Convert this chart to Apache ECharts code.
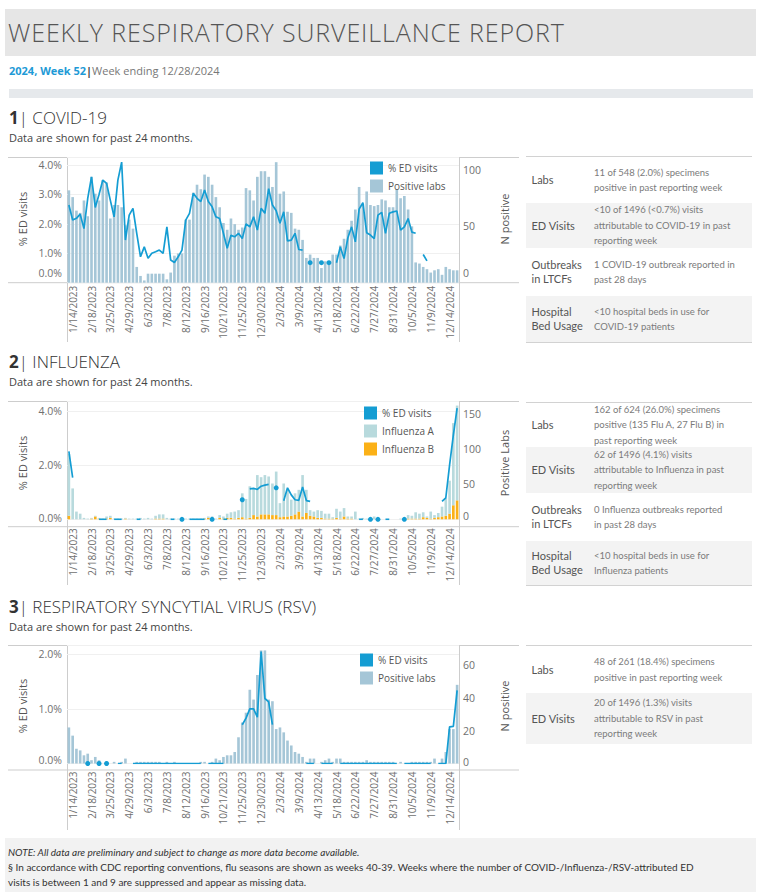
<!DOCTYPE html>
<html><head><meta charset="utf-8">
<script src="https://cdn.jsdelivr.net/npm/echarts@6.0.0/dist/echarts.min.js"></script>
<style>
html,body{margin:0;padding:0;background:#fff;}
#page{position:relative;width:763px;height:892px;overflow:hidden;font-family:"Open Sans",sans-serif;}
.abs{position:absolute;white-space:nowrap;}
.title{font-size:25px;font-weight:300;color:#555;letter-spacing:0.9px;}
.sub{font-size:11px;line-height:16px;color:#777;}
.h2{font-size:17px;line-height:22px;color:#333;font-weight:300;}
.h2 b{font-weight:700;}
.note{font-size:11px;line-height:16px;color:#444;}
.chart{position:absolute;left:0;width:520px;height:200px;}
.axt{position:absolute;font-size:11px;color:#555;white-space:nowrap;transform:translate(-50%,-50%) rotate(-90deg);}
.tbl{position:absolute;left:526px;width:226px;border-top:1px solid #d2d2d2;}
.tbl.bb{border-bottom:1px solid #d2d2d2;}
.row{display:flex;align-items:center;box-sizing:border-box;}
.row.g{background:#f3f3f3;}
.lab{width:62.5px;padding-left:5.5px;font-family:Lato,sans-serif;font-size:11px;line-height:14px;color:#555;flex:none;}
.desc{font-family:Lato,sans-serif;font-size:9.5px;line-height:15.5px;color:#7b7b7b;white-space:nowrap;}
.foot{position:absolute;left:5px;top:838px;width:751px;height:54px;background:#f2f2f2;box-sizing:border-box;padding:7px 0 0 3px;font-family:Lato,sans-serif;font-size:10px;line-height:15px;color:#333;white-space:nowrap;}
</style></head>
<body><div id="page">
<div class="abs" style="left:5px;top:9px;width:751px;height:47px;background:#e6e6e6"></div>
<div class="abs title" style="left:8px;top:9px;height:47px;line-height:47px;">WEEKLY RESPIRATORY SURVEILLANCE REPORT</div>
<div class="abs sub" style="left:9px;top:63px"><span style="color:#1e9ad6;font-weight:700">2024, Week 52</span><span style="color:#444;font-weight:700">|</span>Week ending 12/28/2024</div>
<div class="abs" style="left:9px;top:89px;width:744px;height:9px;background:#e6e9ec"></div>

<div class="abs h2" style="left:9px;top:107px"><b>1</b>| COVID-19</div>
<div class="abs note" style="left:9px;top:130px">Data are shown for past 24 months.</div>
<div class="abs h2" style="left:9px;top:351px"><b>2</b>| INFLUENZA</div>
<div class="abs note" style="left:9px;top:374px">Data are shown for past 24 months.</div>
<div class="abs h2" style="left:9px;top:596px"><b>3</b>| RESPIRATORY SYNCYTIAL VIRUS (RSV)</div>
<div class="abs note" style="left:9px;top:619px">Data are shown for past 24 months.</div>

<div id="c1" class="chart" style="top:150px"></div>
<div id="c2" class="chart" style="top:394px"></div>
<div id="c3" class="chart" style="top:638px"></div>

<div class="axt" style="left:22px;top:219px">% ED visits</div>
<div class="axt" style="left:504px;top:219px">N positive</div>
<div class="axt" style="left:22px;top:463px">% ED visits</div>
<div class="axt" style="left:504px;top:463px">Positive Labs</div>
<div class="axt" style="left:22px;top:706px">% ED visits</div>
<div class="axt" style="left:504px;top:706px">N positive</div>

<div class="tbl bb" style="top:156px">
 <div class="row" style="height:46px"><div class="lab">Labs</div><div class="desc">11 of 548 (2.0%) specimens<br>positive in past reporting week</div></div>
 <div class="row g" style="height:45px"><div class="lab">ED Visits</div><div class="desc">&lt;10 of 1496 (&lt;0.7%) visits<br>attributable to COVID-19 in past<br>reporting week</div></div>
 <div class="row" style="height:48px"><div class="lab">Outbreaks<br>in LTCFs</div><div class="desc">1 COVID-19 outbreak reported in<br>past 28 days</div></div>
 <div class="row g" style="height:46px"><div class="lab">Hospital<br>Bed Usage</div><div class="desc">&lt;10 hospital beds in use for<br>COVID-19 patients</div></div>
</div>
<div class="tbl bb" style="top:402px">
 <div class="row" style="height:44px"><div class="lab">Labs</div><div class="desc">162 of 624 (26.0%) specimens<br>positive (135 Flu A, 27 Flu B) in<br>past reporting week</div></div>
 <div class="row g" style="height:46px"><div class="lab">ED Visits</div><div class="desc">62 of 1496 (4.1%) visits<br>attributable to Influenza in past<br>reporting week</div></div>
 <div class="row" style="height:48px"><div class="lab">Outbreaks<br>in LTCFs</div><div class="desc">0 Influenza outbreaks reported<br>in past 28 days</div></div>
 <div class="row g" style="height:44px"><div class="lab">Hospital<br>Bed Usage</div><div class="desc">&lt;10 hospital beds in use for<br>Influenza patients</div></div>
</div>
<div class="tbl" style="top:645px">
 <div class="row" style="height:47px"><div class="lab">Labs</div><div class="desc">48 of 261 (18.4%) specimens<br>positive in past reporting week</div></div>
 <div class="row g" style="height:51px"><div class="lab">ED Visits</div><div class="desc">20 of 1496 (1.3%) visits<br>attributable to RSV in past<br>reporting week</div></div>
</div>

<div class="foot"><i>NOTE: All data are preliminary and subject to change as more data become available.</i><br>§ In accordance with CDC reporting conventions, flu seasons are shown as weeks 40-39. Weeks where the number of COVID-/Influenza-/RSV-attributed ED<br>visits is between 1 and 9 are suppressed and appear as missing data.</div>
</div>
<script>
const weeks = ['1/7/2023','1/14/2023','1/21/2023','1/28/2023','2/4/2023','2/11/2023','2/18/2023','2/25/2023','3/4/2023','3/11/2023','3/18/2023','3/25/2023','4/1/2023','4/8/2023','4/15/2023','4/22/2023','4/29/2023','5/6/2023','5/13/2023','5/20/2023','5/27/2023','6/3/2023','6/10/2023','6/17/2023','6/24/2023','7/1/2023','7/8/2023','7/15/2023','7/22/2023','7/29/2023','8/5/2023','8/12/2023','8/19/2023','8/26/2023','9/2/2023','9/9/2023','9/16/2023','9/23/2023','9/30/2023','10/7/2023','10/14/2023','10/21/2023','10/28/2023','11/4/2023','11/11/2023','11/18/2023','11/25/2023','12/2/2023','12/9/2023','12/16/2023','12/23/2023','12/30/2023',
'1/6/2024','1/13/2024','1/20/2024','1/27/2024','2/3/2024','2/10/2024','2/17/2024','2/24/2024','3/2/2024','3/9/2024','3/16/2024','3/23/2024','3/30/2024','4/6/2024','4/13/2024','4/20/2024','4/27/2024','5/4/2024','5/11/2024','5/18/2024','5/25/2024','6/1/2024','6/8/2024','6/15/2024','6/22/2024','6/29/2024','7/6/2024','7/13/2024','7/20/2024','7/27/2024','8/3/2024','8/10/2024','8/17/2024','8/24/2024','8/31/2024','9/7/2024','9/14/2024','9/21/2024','9/28/2024','10/5/2024','10/12/2024','10/19/2024','10/26/2024','11/2/2024','11/9/2024','11/16/2024','11/23/2024','11/30/2024','12/7/2024','12/14/2024','12/21/2024','12/28/2024'];

const covidEdPct = [2.64,2.13,2.19,2.33,1.84,2.87,3.6,2.56,3.0,3.49,
 3.38,2.8,2.24,3.49,4.1,1.45,2.3,2.53,1.68,0.88,
 1.22,0.83,1.0,1.05,1.11,1.0,1.9,0.77,0.69,0.88,
 1.11,2.13,2.36,3.04,2.87,2.76,3.15,2.76,2.58,2.24,
 2.18,1.68,1.17,1.61,1.56,1.68,1.5,2.0,1.9,2.24,
 1.79,2.53,2.36,3.2,2.64,2.45,2.02,2.41,1.42,1.45,
 1.68,1.13,1.11,null,0.68,null,null,0.68,null,0.68,
 null,0.68,1.22,0.82,1.52,1.9,1.39,2.5,2.72,1.7,
 1.62,1.5,2.3,2.39,1.68,2.36,2.41,2.44,1.79,1.9,
 2.18,1.72,1.68,null,0.96,0.74,null,null,null,null,
 null,null,null,null];
const covidPositiveLabs = [82,76,64,62,73,59,94,79,73,91,
 89,57,69,69,67,51,56,48,14,6,
 2,8,8,8,8,8,3,9,24,26,
 26,56,56,80,87,83,96,94,87,76,
 67,53,47,57,52,47,49,84,82,73,
 94,99,99,94,85,107,79,81,63,62,
 48,47,38,22,25,22,22,13,19,19,
 25,25,33,39,47,55,65,85,70,81,
 69,68,69,74,73,67,67,83,75,77,
 65,50,18,17,14,12,9,11,12,7,
 14,12,11,11];

const fluEdPct = [2.5,1.54,null,null,null,null,null,null,0,0,
 0,null,0,0,0,null,null,null,0,0,
 null,null,null,null,null,null,null,0,0,null,
 0,null,0,0,0,0,0,null,0,null,
 null,0,0,null,null,null,0.72,null,1.12,1.14,
 1.1,1.22,1.26,1.29,null,1.16,null,0.68,1.16,0.9,
 0.72,0.7,1.19,0.69,0.66,null,null,null,null,null,
 null,null,null,null,null,null,null,0,0,null,
 0,null,0,null,0,0,null,null,null,0,
 null,null,null,null,null,null,null,null,null,0.66,
 0.79,2.0,3.1,4.1];
const fluA = [88,44,11,8,2,1,1,1,1,1,
 3,3,1,1,1,1,1,1,1,2,
 1,2,1,4,6,6,2,1,1,1,
 1,1,1,1,1,1,1,2,3,1,
 4,3,6,8,10,11,34,28,45,38,
 59,53,56,54,45,62,20,47,38,23,
 30,31,59,33,8,7,11,10,7,7,
 2,13,10,12,3,3,11,1,2,1,
 2,4,1,0,0,0,0,0,1,0,
 5,4,9,7,7,2,10,4,6,14,
 25,47,117,135];
const fluB = [5,0,0,0,0,0,1,4,1,0,
 1,2,0,0,0,1,0,0,0,0,
 0,0,0,1,1,1,0,0,0,0,
 0,0,0,0,0,0,1,2,1,0,
 2,1,2,2,1,2,3,1,2,6,
 4,7,7,7,6,6,3,4,4,5,
 7,11,4,9,5,4,2,2,1,1,
 1,2,1,4,1,1,0,0,0,0,
 0,0,0,0,0,0,0,0,0,0,
 1,1,1,1,3,2,1,2,3,4,
 5,8,20,27];

const rsvEdPct = [null,null,null,null,null,0,null,null,0,null,
 0,null,null,0,0,null,null,0,0,0,
 0,0,0,0,0,0,0,0,0,0,
 0,0,0,0,0,0,null,0,0,0,
 0,0,null,null,null,null,0.71,0.83,1.0,1.0,
 0.85,2.05,1.19,1.13,0.71,null,null,null,null,null,
 null,null,null,0,0,0,null,0,0,0,
 0,null,0,0,0,0,0,0,0,0,
 0,0,0,0,0,0,0,0,null,0,
 0,0,0,0,0,0,0,null,0,0,
 0,0.67,0.68,1.34];
const rsvPositiveLabs = [22,17,9,8,5,6,2,4,2,0,
 0,0,1,0,1,3,0,0,1,1,
 1,1,1,1,1,0,1,0,1,0,
 0,0,0,0,0,1,1,0,1,3,
 2,4,5,5,7,16,25,31,45,39,
 54,69,69,39,38,21,22,19,14,11,
 7,6,4,1,3,3,0,1,2,3,
 1,3,3,1,1,1,1,1,1,2,
 1,1,1,1,1,1,1,0,1,0,
 0,1,1,1,1,1,1,3,0,3,
 7,21,21,48];

const ED_COLOR = '#149dd3';
const LABS_COLOR = '#a5c6d7';
const FLU_A_COLOR = '#b8dadd';
const FLU_B_COLOR = '#fbb117';
const FONT = 'Open Sans';
const TICK_COLOR = '#707070';

function isolatedSize(arr){
  return function(v, p){
    const i = p.dataIndex;
    const prev = i > 0 ? arr[i-1] : null;
    const next = i < arr.length-1 ? arr[i+1] : null;
    return (prev == null && next == null) ? 5 : 0;
  };
}
function frame(bottomY, vEnd){
  const s = {stroke:'#cdcdcd', lineWidth:1};
  return [
    {type:'line', silent:true, shape:{x1:8,y1:7.5,x2:519,y2:7.5}, style:s},
    {type:'line', silent:true, shape:{x1:8,y1:bottomY,x2:519,y2:bottomY}, style:s},
    {type:'line', silent:true, shape:{x1:67.5,y1:7,x2:67.5,y2:vEnd}, style:s},
    {type:'line', silent:true, shape:{x1:459.5,y1:7,x2:459.5,y2:vEnd}, style:s}
  ];
}
function pctAxis(max, interval, zeroPad){
  return {type:'value', position:'left', min:0, max:max, interval:interval,
    axisLine:{show:false}, axisTick:{show:false},
    splitLine:{show:true, lineStyle:{color:'#f0f0f0', width:1}},
    axisLabel:{margin:5, fontSize:10.5, color:TICK_COLOR, fontFamily:FONT,
      formatter: function(v){
        const k = v/interval;
        if (Math.abs(k-Math.round(k)) > 1e-6) return '';
        const s = v.toFixed(1) + '%';
        return v === 0 ? '{z|' + s + '}' : s;
      },
      rich:{z:{padding:[0,0,zeroPad,0], fontSize:10.5, color:TICK_COLOR, fontFamily:FONT}}
    }};
}
function countAxis(max, interval, zeroPad){
  return {type:'value', position:'right', min:0, max:max, interval:interval,
    axisLine:{show:false}, axisTick:{show:false}, splitLine:{show:false},
    axisLabel:{margin:4, fontSize:10.5, color:TICK_COLOR, fontFamily:FONT,
      formatter: function(v){
        const k = v/interval;
        if (Math.abs(k-Math.round(k)) > 1e-6) return '';
        return v === 0 ? '{z|0}' : String(v);
      },
      rich:{z:{padding:[0,0,zeroPad,0], fontSize:10.5, color:TICK_COLOR, fontFamily:FONT}}
    }};
}
function xAxis(margin){
  return {type:'category', data:weeks, boundaryGap:true,
    axisLine:{show:false}, axisTick:{show:false}, splitLine:{show:false},
    axisLabel:{rotate:90, margin:margin, fontSize:10, color:TICK_COLOR, fontFamily:FONT,
      interval:function(i){ return i % 5 === 1; }}};
}
function edSeries(arr){
  return {name:'% ED visits', type:'line', yAxisIndex:0, data:arr, z:5,
    connectNulls:false, symbol:'circle', showSymbol:true, showAllSymbol:true,
    symbolSize:isolatedSize(arr), lineStyle:{width:1.7, color:ED_COLOR},
    itemStyle:{color:ED_COLOR}, emphasis:{disabled:true}, silent:true};
}
function legend(left, top, names){
  return {orient:'vertical', left:left, top:top, padding:0, itemWidth:13, itemHeight:13, itemGap:5,
    icon:'rect', selectedMode:false, data:names,
    textStyle:{fontSize:10, color:'#555', fontFamily:FONT}};
}

const c1 = echarts.init(document.getElementById('c1'), null, {renderer:'svg'});
c1.setOption({
  animation:false,
  grid:{left:67, top:7, width:392, height:125.7},
  graphic:frame(132.7, 192),
  legend:legend(370, 11.5, ['% ED visits','Positive labs']),
  xAxis:xAxis(3),
  yAxis:[pctAxis(4.275, 1, 19), countAxis(111.6, 50, 19)],
  series:[
    {name:'Positive labs', type:'bar', yAxisIndex:1, data:covidPositiveLabs, barCategoryGap:'30%',
     itemStyle:{color:LABS_COLOR}, silent:true},
    edSeries(covidEdPct)
  ]
});

const c2 = echarts.init(document.getElementById('c2'), null, {renderer:'svg'});
c2.setOption({
  animation:false,
  grid:{left:67, top:7, width:392, height:118.3},
  graphic:frame(132.7, 191),
  legend:legend(364, 12.5, ['% ED visits','Influenza A','Influenza B']),
  xAxis:xAxis(9),
  yAxis:[pctAxis(4.36, 2, 3), countAxis(168.5, 50, 6)],
  series:[
    {name:'Influenza B', type:'bar', stack:'labs', yAxisIndex:1, data:fluB, barCategoryGap:'30%',
     itemStyle:{color:FLU_B_COLOR}, silent:true},
    {name:'Influenza A', type:'bar', stack:'labs', yAxisIndex:1, data:fluA, barCategoryGap:'30%',
     itemStyle:{color:FLU_A_COLOR}, silent:true},
    edSeries(fluEdPct)
  ]
});

const c3 = echarts.init(document.getElementById('c3'), null, {renderer:'svg'});
c3.setOption({
  animation:false,
  grid:{left:67, top:7, width:392, height:118.5},
  graphic:frame(132, 192),
  legend:legend(360, 15.5, ['% ED visits','Positive labs']),
  xAxis:xAxis(8),
  yAxis:[pctAxis(2.17, 1, 7), countAxis(72.3, 20, 4)],
  series:[
    {name:'Positive labs', type:'bar', yAxisIndex:1, data:rsvPositiveLabs, barCategoryGap:'30%',
     itemStyle:{color:LABS_COLOR}, silent:true},
    edSeries(rsvEdPct)
  ]
});
</script>
</body></html>
